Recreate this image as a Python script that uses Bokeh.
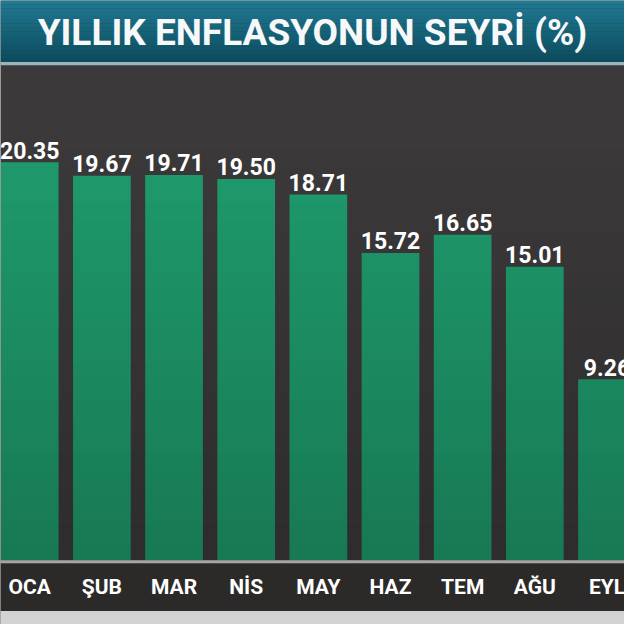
from bokeh.plotting import figure
from bokeh.models import Range1d, ColumnDataSource
from bokeh.core.properties import value
from bokeh.embed import file_html
from bokeh.resources import INLINE

months = ["OCA", "ŞUB", "MAR", "NİS", "MAY", "HAZ", "TEM", "AĞU", "EYL"]
inflation = [20.35, 19.67, 19.71, 19.50, 18.71, 15.72, 16.65, 15.01, 9.26]
labels = ["20.35", "19.67", "19.71", "19.50", "18.71", "15.72", "16.65", "15.01", "9.26"]
title_text = "YILLIK ENFLASYONUN SEYRİ (%)"

FONT = value("Roboto")
W = H = 624
YMIN, YMAX = -3.29, 28.63
XMIN, XMAX = -0.405, 8.243

p = figure(width=W, height=H, output_backend="svg", toolbar_location=None,
           x_range=Range1d(XMIN, XMAX), y_range=Range1d(YMIN, YMAX),
           min_border=0, outline_line_color=None)
p.axis.visible = False
p.grid.visible = False
p.background_fill_color = "#3b393a"
p.border_fill_color = "#3b393a"

xs = list(range(len(months)))
src = ColumnDataSource(dict(x=xs, top=inflation, lab=labels, m=months,
                            ly=[v + 0.62 for v in inflation]))

# bars
p.vbar(x="x", top="top", bottom=0, width=0.8, source=src,
       fill_color="#1f9c6d", line_color=None)

# subtle vertical shading (darker toward the bottom)
n = 24
for k in range(n):
    b = 0 + k * 22.0 / n
    t = b + 22.0 / n
    a = 0.22 * (1 - k / (n - 1))
    p.quad(left=XMIN, right=XMAX, bottom=b, top=t, fill_color="black",
           fill_alpha=a, line_color=None)

# value labels
p.text(x="x", y="ly", text="lab", source=src, text_align="center",
       text_baseline="alphabetic", text_color="white", text_font=FONT,
       text_font_style="bold", text_font_size="23px")

# bottom band
p.quad(left=XMIN, right=XMAX, bottom=-0.17, top=0, fill_color="#a5a5a5", line_color=None)
p.quad(left=XMIN, right=XMAX, bottom=-2.6, top=-0.17, fill_color="#2c2a29", line_color=None)
p.quad(left=XMIN, right=XMAX, bottom=YMIN, top=-2.6, fill_color="#d2d2d2", line_color=None)
p.text(x="x", y=-1.35, text="m", source=src, text_align="center",
       text_baseline="middle", text_color="white", text_font=FONT,
       text_font_style="bold", text_font_size="21px")

# title band with gradient
tb, tt = 25.49, YMAX
m = 16
c0 = (0x1f, 0x7a, 0x92)
c1 = (0x0d, 0x4c, 0x5f)
for k in range(m):
    t = tt - k * (tt - tb) / m
    b = t - (tt - tb) / m
    f = k / (m - 1)
    col = "#%02x%02x%02x" % tuple(int(c0[i] + (c1[i] - c0[i]) * f) for i in range(3))
    p.quad(left=XMIN, right=XMAX, bottom=b - 0.01, top=t, fill_color=col, line_color=None)
p.quad(left=XMIN, right=XMAX, bottom=25.32, top=tb, fill_color="#9db4bc", line_color=None)
p.text(x=[(XMIN + XMAX) / 2], y=[26.98], text=[title_text], text_align="center",
       text_baseline="middle", text_color="#f7f8f9", text_font=FONT,
       text_font_style="bold", text_font_size="37px")

open("out.html", "w").write(file_html(p, INLINE))
